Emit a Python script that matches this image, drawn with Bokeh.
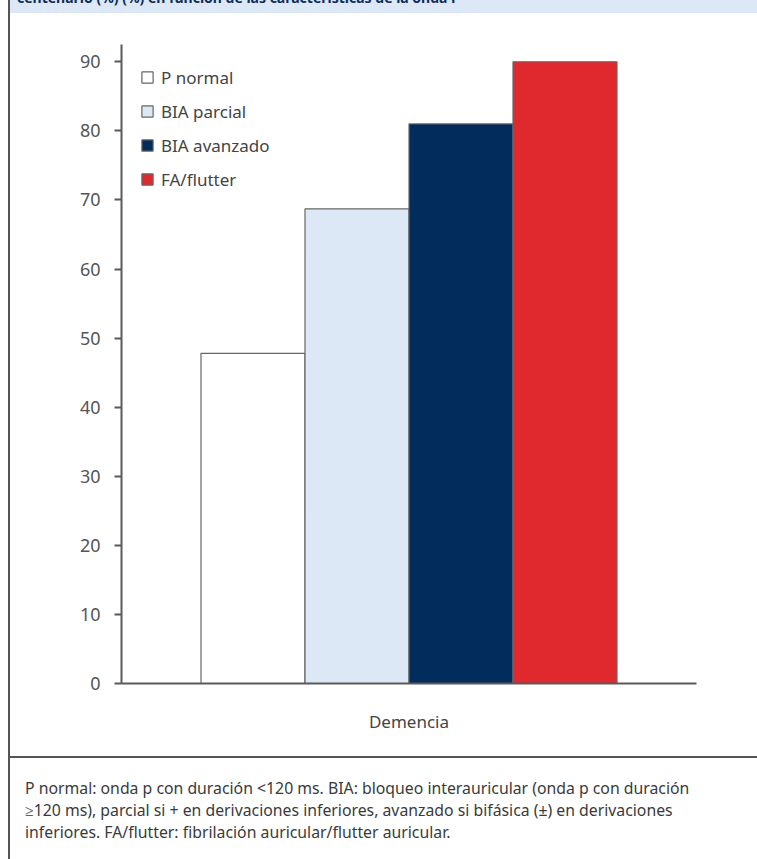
from bokeh.plotting import figure
from bokeh.models import Div, FactorRange, Range1d, ColumnDataSource
from bokeh.layouts import column, row
from bokeh.transform import dodge
from bokeh.embed import file_html
from bokeh.resources import INLINE

# ---- data ----
groups = ["Demencia"]
series = ["P normal", "BIA parcial", "BIA avanzado", "FA/flutter"]
values = [47.8, 68.7, 81.0, 90.0]
colors = ["#ffffff", "#dce8f5", "#022c5c", "#e0292e"]
yticks = [0, 10, 20, 30, 40, 50, 60, 70, 80, 90]
header_text = "centenario (%) (%) en función de las características de la onda P"
footnote_lines = [
    "P normal: onda p con duración &lt;120 ms. BIA: bloqueo interauricular (onda p con duración",
    "≥120 ms), parcial si + en derivaciones inferiores, avanzado si bifásica (±) en derivaciones",
    "inferiores. FA/flutter: fibrilación auricular/flutter auricular.",
]

FONT = "Noto Sans"

p = figure(width=747, height=742,
           x_range=FactorRange(factors=groups, range_padding=0),
           y_range=Range1d(0, 92.5),
           output_backend="svg", toolbar_location=None,
           min_border_left=111, min_border_right=61,
           min_border_top=30, min_border_bottom=73,
           margin=0)

bar_w = 104.0 / 575.0
n = len(series)
for i, (name, val, col) in enumerate(zip(series, values, colors)):
    off = (i - (n - 1) / 2.0) * bar_w
    src = ColumnDataSource(dict(cat=groups, val=[val]))
    p.vbar(x=dodge("cat", off, range=p.x_range), top="val", width=bar_w,
           source=src, fill_color=col, line_color="#666666", line_width=1.2,
           legend_label=name)

p.xgrid.grid_line_color = None
p.ygrid.grid_line_color = None
p.outline_line_color = None
p.background_fill_color = "white"
p.border_fill_color = "white"

ya = p.yaxis[0]
ya.ticker = yticks
ya.axis_line_color = "#5a5a5a"
ya.axis_line_width = 2
ya.major_tick_line_color = "#5a5a5a"
ya.major_tick_line_width = 2
ya.major_tick_out = 7
ya.major_tick_in = 0
ya.minor_tick_line_color = None
ya.major_label_text_font = FONT
ya.major_label_text_font_size = "18px"
ya.major_label_text_color = "#555555"
ya.major_label_standoff = 14

xa = p.xaxis[0]
xa.axis_line_color = "#5a5a5a"
xa.axis_line_width = 2
xa.major_tick_line_color = None
xa.major_tick_out = 0
xa.major_tick_in = 0
xa.minor_tick_line_color = None
xa.major_label_text_font = FONT
xa.major_label_text_font_size = "17px"
xa.major_label_text_color = "#444444"
xa.major_label_standoff = 26

lg = p.legend[0]
lg.location = "top_left"
lg.margin = 19
lg.padding = 0
lg.spacing = 6
lg.glyph_width = 14
lg.glyph_height = 14
lg.label_height = 28
lg.label_standoff = 7
lg.label_text_font = FONT
lg.label_text_font_size = "17px"
lg.label_text_color = "#444444"
lg.border_line_color = None
lg.background_fill_alpha = 0

header = Div(width=757, height=14, margin=0, text=(
    '<div style="position:relative;width:757px;height:14px;overflow:hidden;background:white;">'
    '<div style="position:absolute;left:8px;top:0;width:2px;height:14px;background:#555;"></div>'
    '<div style="position:absolute;left:10px;top:0;width:747px;height:13px;background:#dce8f5;"></div>'
    '<div style="position:absolute;left:17px;top:-9px;font-family:\'Noto Sans\';font-weight:bold;'
    'font-size:14px;line-height:14px;color:#0d2d5c;white-space:nowrap;">'
    + header_text + '</div></div>'))

border = Div(width=10, height=742, margin=0, text=(
    '<div style="position:relative;width:10px;height:742px;background:white;">'
    '<div style="position:absolute;left:8px;top:0;width:2px;height:742px;background:#555;"></div>'
    '</div>'))

footer = Div(width=757, height=103, margin=0, text=(
    '<div style="position:relative;width:757px;height:103px;background:white;">'
    '<div style="position:absolute;left:8px;top:0;width:2px;height:103px;background:#555;"></div>'
    '<div style="position:absolute;left:8px;top:0;width:749px;height:2px;background:#555;"></div>'
    '<div style="position:absolute;left:25px;top:21px;font-family:\'Noto Sans\';font-size:15.8px;'
    'line-height:22px;color:#3a3a3a;white-space:nowrap;">'
    + "<br>".join(footnote_lines) + '</div></div>'))

layout = column(header, row(border, p, margin=0, spacing=0), footer, margin=0, spacing=0)

open("out.html", "w").write(file_html(layout, INLINE))
